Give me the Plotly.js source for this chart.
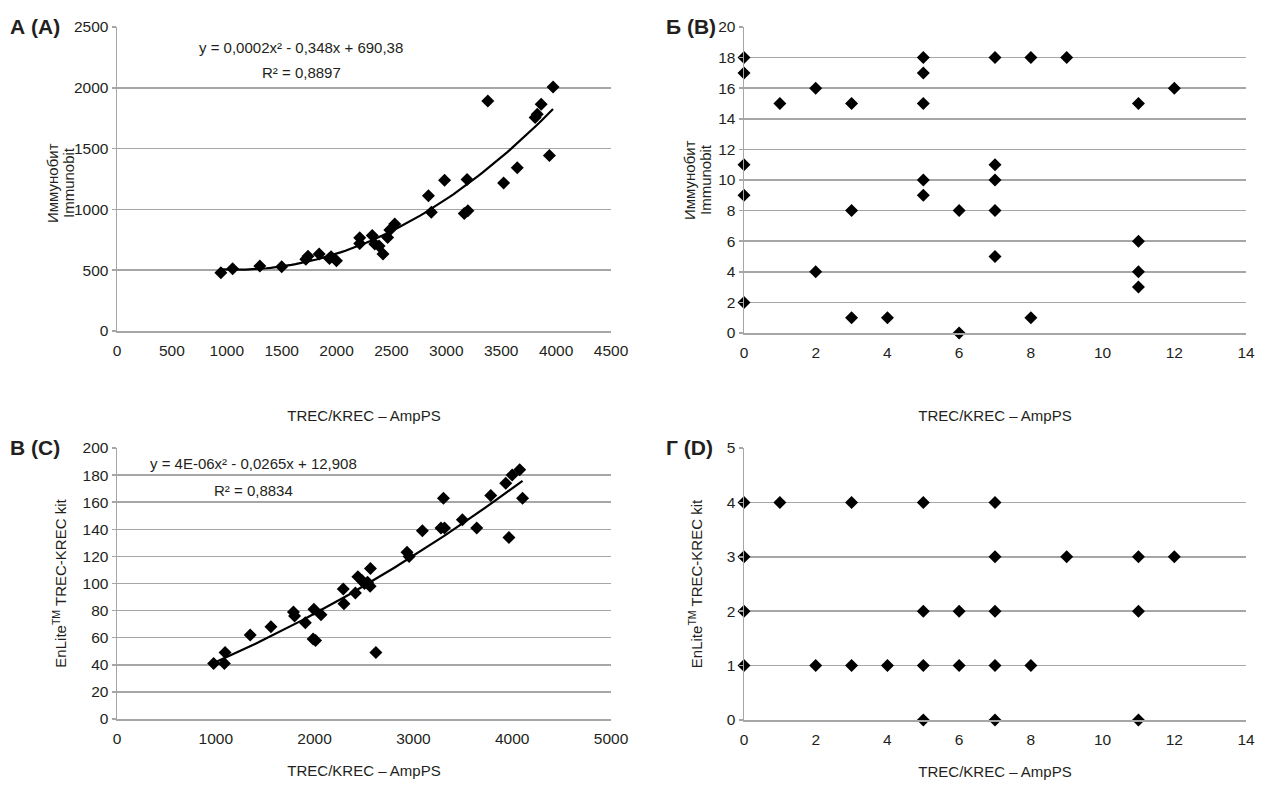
<!DOCTYPE html>
<html>
<head>
<meta charset="utf-8">
<script src="https://cdn.plot.ly/plotly-3.0.1.min.js"></script>
<style>html,body{margin:0;padding:0;background:#fff}#chart{width:1264px;height:785px}</style>
</head>
<body>
<div id="chart"></div>
<script>
// Panel A: TREC/KREC AmpPS vs Immunobit (continuous)
var A_x = [946,1053,1301,1500,1720,1740,1842,1935,1950,1999,2211,2211,2325,2348,2387,2423,2465,2485,2530,2837,2863,2984,3163,3196,3189,3378,3522,3646,3809,3828,3864,3939,3972];
var A_y = [479,512,534,528,590,615,633,597,611,578,767,720,786,715,698,633,769,830,879,1112,977,1240,967,988,1246,1892,1218,1342,1755,1783,1865,1443,2007];
// Panel B: integer scores
var B_x = [0,0,0,0,0,1,2,2,3,3,3,4,5,5,5,5,5,6,6,7,7,7,7,7,8,8,9,11,11,11,11,12];
var B_y = [18,17,11,9,2,15,16,4,15,8,1,1,18,17,15,10,9,8,0,18,11,10,8,5,18,1,18,15,6,4,3,16];
// Panel C: TREC/KREC AmpPS vs EnLite
var C_x = [978,1087,1094,1348,1558,1786,1797,1906,1993,1985,2010,2065,2290,2297,2413,2438,2482,2505,2536,2562,2565,2620,2935,2957,3091,3279,3315,3304,3496,3641,3783,3935,4000,4076,3967,4105];
var C_y = [41,41,49,62,68,79,76,71,81,59,58,77,96,85,93,105,102,100,101,98,111,49,123,120,139,141,141,163,147,141,165,174,180,184,134,163];
// Panel D: integer scores
var D_x = [0,1,3,5,7, 0,7,9,11,12, 0,5,6,7,11, 0,2,3,4,5,6,7,8, 5,7,11];
var D_y = [4,4,4,4,4, 3,3,3,3,3, 2,2,2,2,2, 1,1,1,1,1,1,1,1, 0,0,0];

var eqA = ['y = 0,0002x\u00b2 - 0,348x + 690,38', 'R\u00b2 = 0,8897'];
var eqC = ['y = 4E-06x\u00b2 - 0,0265x + 12,908', 'R\u00b2 = 0,8834'];
var panelLabels = ['\u0410 (A)', '\u0411 (B)', '\u0412 (C)', '\u0413 (D)'];
var xTitle = 'TREC/KREC \u2013 AmpPS';
var yTitleAB = ['\u0418\u043c\u043c\u0443\u043d\u043e\u0431\u0438\u0442', 'Immunobit'];
var yTitleCD = 'EnLite<sup>TM</sup> TREC-KREC kit';

// least-squares quadratic fit (trendline)
function quadFit(xs, ys) {
  var s = 1000, n = xs.length, S = [0,0,0,0,0], T = [0,0,0];
  for (var i = 0; i < n; i++) {
    var x = xs[i] / s, p = 1;
    for (var k = 0; k < 5; k++) { S[k] += p; if (k < 3) T[k] += p * ys[i]; p *= x; }
  }
  var M = [[S[0],S[1],S[2],T[0]],[S[1],S[2],S[3],T[1]],[S[2],S[3],S[4],T[2]]];
  for (var c = 0; c < 3; c++) {
    for (var r = c + 1; r < 3; r++) {
      var f = M[r][c] / M[c][c];
      for (var j = c; j < 4; j++) M[r][j] -= f * M[c][j];
    }
  }
  var b = [0,0,0];
  for (var r2 = 2; r2 >= 0; r2--) {
    var v = M[r2][3];
    for (var j2 = r2 + 1; j2 < 3; j2++) v -= M[r2][j2] * b[j2];
    b[r2] = v / M[r2][r2];
  }
  var lo = Math.min.apply(null, xs), hi = Math.max.apply(null, xs);
  var tx = [], ty = [];
  for (var t = 0; t <= 80; t++) {
    var xv = lo + (hi - lo) * t / 80, xx = xv / s;
    tx.push(xv); ty.push(b[0] + b[1] * xx + b[2] * xx * xx);
  }
  return {x: tx, y: ty};
}
var fitA = quadFit(A_x, A_y), fitC = quadFit(C_x, C_y);

var mk = {symbol: 'diamond', size: 10, color: '#000'};
var traces = [
  {x: fitA.x, y: fitA.y, mode: 'lines', line: {color: '#000', width: 2.2}, xaxis: 'x', yaxis: 'y', hoverinfo: 'skip'},
  {x: A_x, y: A_y, mode: 'markers', marker: mk, xaxis: 'x', yaxis: 'y', cliponaxis: false},
  {x: B_x, y: B_y, mode: 'markers', marker: mk, xaxis: 'x2', yaxis: 'y2', cliponaxis: false},
  {x: fitC.x, y: fitC.y, mode: 'lines', line: {color: '#000', width: 2.2}, xaxis: 'x3', yaxis: 'y3', hoverinfo: 'skip'},
  {x: C_x, y: C_y, mode: 'markers', marker: mk, xaxis: 'x3', yaxis: 'y3', cliponaxis: false},
  {x: D_x, y: D_y, mode: 'markers', marker: mk, xaxis: 'x4', yaxis: 'y4', cliponaxis: false}
];

var W = 1264, H = 785;
function px(v) { return v / W; }
function py(v) { return 1 - v / H; }
var FONT = '"Liberation Sans", Arial, sans-serif';
var txt = '#231f20', grid = '#a6a6a6';
var tf = {family: FONT, size: 15.5, color: txt};
var ttf = {family: FONT, size: 15, color: txt};

function xa(dom, range, dtick, anchor, standoff) {
  return {domain: dom, range: range, dtick: dtick, tick0: 0, anchor: anchor,
    showgrid: false, zeroline: false, showline: true, linecolor: grid, linewidth: 1.5,
    ticks: '', tickfont: tf, ticklabelstandoff: 5, automargin: false,
    title: {text: xTitle, font: ttf, standoff: standoff}};
}
function ya(dom, range, dtick, anchor, title, standoff) {
  var ax = {domain: dom, range: range, dtick: dtick, tick0: 0, anchor: anchor,
    showgrid: true, gridcolor: grid, gridwidth: 1.5, zeroline: false,
    showline: true, linecolor: grid, linewidth: 1.5,
    ticks: 'outside', ticklen: 4, tickcolor: grid, tickwidth: 1.5, tickfont: tf, automargin: false};
  if (title) ax.title = {text: title, font: ttf, standoff: standoff};
  return ax;
}

function note(text, x, y, size, extra) {
  var a = {text: text, x: px(x), y: py(y), xref: 'paper', yref: 'paper', xanchor: 'center', yanchor: 'middle',
    showarrow: false, font: {family: FONT, size: size, color: txt}};
  for (var k in extra) a[k] = extra[k];
  return a;
}

var layout = {
  width: W, height: H, margin: {l: 0, r: 0, t: 0, b: 0},
  paper_bgcolor: '#fff', plot_bgcolor: '#fff', showlegend: false,
  font: {family: FONT, color: txt},
  xaxis: xa([px(117), px(611)], [0, 4500], 500, 'y', 52),
  yaxis: ya([py(331), py(27)], [0, 2500], 500, 'x'),
  xaxis2: xa([px(744), px(1246)], [0, 14], 2, 'y2', 50),
  yaxis2: ya([py(333), py(27)], [0, 20], 2, 'x2'),
  xaxis3: xa([px(117), px(611)], [0, 5000], 1000, 'y3', 19),
  yaxis3: ya([py(719), py(448)], [0, 200], 20, 'x3', yTitleCD, 12),
  xaxis4: xa([px(744), px(1246)], [0, 14], 2, 'y4', 19),
  yaxis4: ya([py(720), py(448)], [0, 5], 1, 'x4', yTitleCD, 20),
  annotations: [
    note(yTitleAB[0], 53, 183, 15, {textangle: -90}),
    note(yTitleAB[1], 69, 183, 15, {textangle: -90}),
    note(yTitleAB[0], 690, 180, 15, {textangle: -90}),
    note(yTitleAB[1], 706, 180, 15, {textangle: -90}),
    note(eqA[0], 301, 48, 15),
    note(eqA[1], 301, 73, 15),
    note(eqC[0], 253, 463, 15),
    note(eqC[1], 253, 490, 15),
    note('<b>' + panelLabels[0] + '</b>', 8, 27, 21, {xanchor: 'left'}),
    note('<b>' + panelLabels[1] + '</b>', 664, 27, 21, {xanchor: 'left'}),
    note('<b>' + panelLabels[2] + '</b>', 8, 447, 21, {xanchor: 'left'}),
    note('<b>' + panelLabels[3] + '</b>', 664, 447, 21, {xanchor: 'left'})
  ]
};

Plotly.newPlot('chart', traces, layout, {displayModeBar: false, staticPlot: true});
</script>
</body>
</html>
